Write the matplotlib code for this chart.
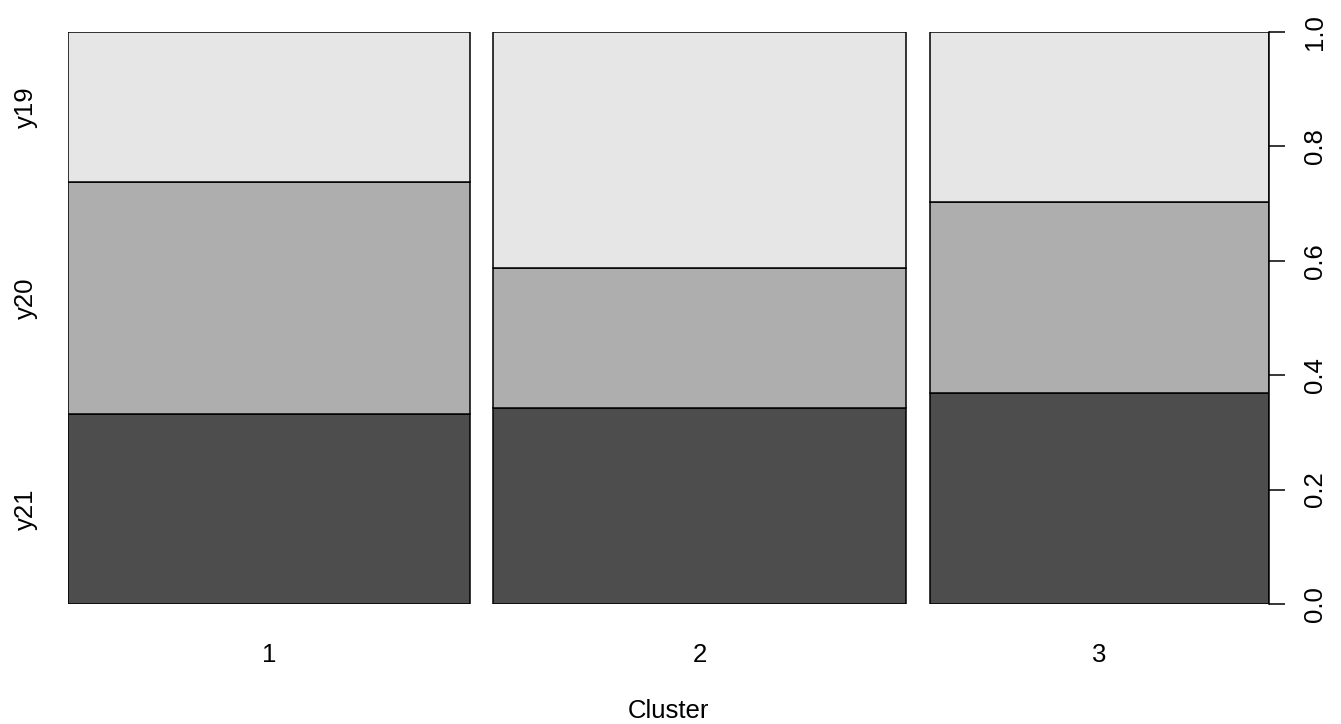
import matplotlib
matplotlib.use("Agg")
import matplotlib.pyplot as plt
import numpy as np

# Spine plot of response categories by cluster
clusters = ["1", "2", "3"]
cluster_share = [0.3476, 0.3582, 0.2942]          # relative cluster sizes (bar widths)
levels = ["y21", "y20", "y19"]                      # stacked bottom to top
props = {
    "y21": [0.333, 0.343, 0.369],
    "y20": [0.404, 0.245, 0.334],
    "y19": [0.263, 0.412, 0.297],
}
fills = {"y21": "#4D4D4D", "y20": "#AEAEAE", "y19": "#E6E6E6"}
gap = 0.02
right_ticks = [0.0, 0.2, 0.4, 0.6, 0.8, 1.0]

plt.rcParams["font.family"] = ["Liberation Sans", "DejaVu Sans"]
fs = 18.5

W, H = 1341, 724
fig = plt.figure(figsize=(W / 100, H / 100), dpi=100)
ax = fig.add_axes([68.3 / W, (H - 604) / H, (1269.3 - 68.3) / W, 572 / H])

widths = np.array(cluster_share)
lefts = np.concatenate([[0], np.cumsum(widths + gap)[:-1]])
bottom = np.zeros(len(clusters))
for lev in levels:
    h = np.array(props[lev])
    ax.bar(lefts, h, width=widths, bottom=bottom, align="edge",
           color=fills[lev], edgecolor="black", linewidth=1.1, zorder=2)
    bottom = bottom + h

xmax = widths.sum() + gap * (len(clusters) - 1)
ax.set_xlim(0, xmax)
ax.set_ylim(0, 1)

for s in ["top", "left", "bottom"]:
    ax.spines[s].set_visible(False)
ax.spines["right"].set_linewidth(1.1)

# right-hand proportion axis
ax.yaxis.tick_right()
ax.set_yticks(right_ticks)
ax.set_yticklabels([f"{t:.1f}" for t in right_ticks], rotation=90,
                   va="center", fontsize=fs)
ax.tick_params(axis="y", length=11.5, width=1.1, pad=13)

# cluster labels under each bar
centers = lefts + widths / 2
ax.set_xticks(centers)
ax.set_xticklabels(clusters, fontsize=fs)
ax.tick_params(axis="x", length=0, pad=28)

# axis title near the bottom edge
ax_mid = (68.3 + 1269.3) / 2 / W
fig.text(ax_mid, 6 / H, "Cluster", ha="center", va="baseline", fontsize=fs)

# category labels on the left at the middle of the first bar's segments
cum = np.cumsum([props[l][0] for l in levels])
mids = cum - np.array([props[l][0] for l in levels]) / 2
for lev, m in zip(levels, mids):
    ax.text(-42 / 1201 * xmax, m, lev, rotation=90, ha="center", va="center",
            fontsize=fs, transform=ax.transData, clip_on=False)

fig.savefig("out.png", dpi=100)
